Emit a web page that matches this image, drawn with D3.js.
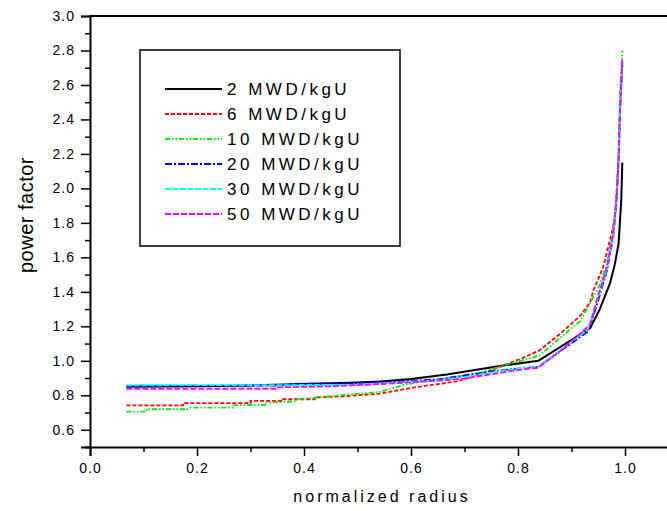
<!DOCTYPE html>
<html>
<head>
<meta charset="utf-8">
<title>power factor vs normalized radius</title>
<script src="https://cdn.jsdelivr.net/npm/d3@7"></script>
<style>
  body { margin: 0; background: #fff; }
  svg { display: block; font-family: "Liberation Sans", Arial, sans-serif; }
  .tick text { font-size: 14px; letter-spacing: 1px; }
</style>
</head>
<body>
<div id="chart"></div>
<script>
// burnup curves, [normalized radius, power factor]
var bu2 = [[0.068,0.85],[0.2,0.852],[0.3,0.857],[0.4,0.865],[0.486,0.873],[0.542,0.88],[0.6,0.895],[0.667,0.92],[0.766,0.97],[0.838,1.0],[0.935,1.19],[0.953,1.30],[0.972,1.45],[0.981,1.56],[0.988,1.68],[0.993,1.93],[0.995,2.15]];
var bu6 = [[0.068,0.742],[0.174,0.742],[0.174,0.754],[0.3,0.754],[0.3,0.767],[0.36,0.767],[0.36,0.777],[0.42,0.777],[0.42,0.787],[0.48,0.795],[0.542,0.81],[0.604,0.845],[0.685,0.88],[0.729,0.92],[0.766,0.965],[0.804,1.01],[0.84,1.06],[0.879,1.157],[0.916,1.26],[0.935,1.34],[0.941,1.41],[0.959,1.54],[0.975,1.74],[0.981,1.83],[0.987,2.1],[0.991,2.45],[0.995,2.74]];
var bu10 = [[0.068,0.705],[0.106,0.705],[0.106,0.719],[0.183,0.719],[0.187,0.728],[0.268,0.728],[0.268,0.742],[0.33,0.745],[0.33,0.757],[0.386,0.765],[0.386,0.777],[0.424,0.787],[0.467,0.80],[0.542,0.82],[0.592,0.864],[0.667,0.90],[0.729,0.93],[0.785,0.985],[0.804,1.0],[0.84,1.03],[0.879,1.135],[0.916,1.23],[0.95,1.42],[0.966,1.56],[0.978,1.76],[0.984,1.95],[0.988,2.2],[0.99,2.52],[0.995,2.8]];
var bu20 = [[0.068,0.855],[0.37,0.857],[0.37,0.866],[0.486,0.87],[0.573,0.88],[0.654,0.893],[0.71,0.92],[0.766,0.945],[0.838,0.965],[0.931,1.17],[0.947,1.32],[0.966,1.52],[0.978,1.72],[0.984,1.92],[0.988,2.16],[0.991,2.47],[0.995,2.72]];
var bu30 = [[0.068,0.858],[0.5,0.86],[0.542,0.868],[0.654,0.888],[0.71,0.91],[0.766,0.942],[0.838,0.965],[0.93,1.18],[0.947,1.34],[0.966,1.53],[0.978,1.73],[0.984,1.93],[0.988,2.17],[0.991,2.5],[0.995,2.74]];
var bu50 = [[0.068,0.838],[0.349,0.838],[0.349,0.846],[0.45,0.852],[0.542,0.865],[0.6,0.875],[0.697,0.895],[0.785,0.94],[0.838,0.96],[0.88,1.06],[0.916,1.157],[0.935,1.21],[0.947,1.35],[0.966,1.54],[0.978,1.74],[0.984,1.93],[0.988,2.17],[0.991,2.5],[0.995,2.76]];

var labels = ["2 MWD/kgU", "6 MWD/kgU", "10 MWD/kgU", "20 MWD/kgU", "30 MWD/kgU", "50 MWD/kgU"];
var xTicks = [0.0, 0.2, 0.4, 0.6, 0.8, 1.0];
var yTicks = [0.6, 0.8, 1.0, 1.2, 1.4, 1.6, 1.8, 2.0, 2.2, 2.4, 2.6, 2.8, 3.0];

var series = [bu2, bu6, bu10, bu20, bu30, bu50];
var colors = ["#000000", "#ff0000", "#00ee00", "#0000ff", "#00ffff", "#ff00ff"];
var dashes = [null, "4,2", "5,2,1.5,2,1.5,2", "7,2,2,2", "6,1.5", "6,2"];

var W = 667, H = 511;
var svg = d3.select("#chart").append("svg").attr("width", W).attr("height", H);

var x = d3.scaleLinear().domain([0, 1.1]).range([90, 90 + 1.1 * 535]);
var y = d3.scaleLinear().domain([0.5, 3.0]).range([447, 16]);

// minor ticks first
svg.append("g").attr("transform", "translate(0,447)")
  .call(d3.axisBottom(x).tickValues(d3.range(0.1, 1.1, 0.2)).tickSize(5).tickFormat(""))
  .call(function(g) { g.select(".domain").remove(); });
svg.append("g").attr("transform", "translate(90,0)")
  .call(d3.axisLeft(y).tickValues(d3.range(0.5, 3.0, 0.2).concat([0.5])).tickSize(5).tickFormat(""))
  .call(function(g) { g.select(".domain").remove(); });

var xa = svg.append("g").attr("transform", "translate(0,447)")
  .call(d3.axisBottom(x).tickValues(xTicks).tickSize(9).tickPadding(7).tickFormat(d3.format(".1f")));
var ya = svg.append("g").attr("transform", "translate(90,0)")
  .call(d3.axisLeft(y).tickValues(yTicks).tickSize(9).tickPadding(6).tickFormat(d3.format(".1f")));

svg.selectAll(".domain").attr("stroke-width", 2);
svg.selectAll(".tick line").attr("stroke-width", 1.5);
svg.selectAll(".tick text").attr("fill", "#000");

// top frame line
svg.append("line").attr("x1", 90).attr("x2", W).attr("y1", y(3.0)).attr("y2", y(3.0))
  .attr("stroke", "#000").attr("stroke-width", 2);

var line = d3.line().x(function(d) { return x(d[0]); }).y(function(d) { return y(d[1]); });

series.forEach(function(s, i) {
  svg.append("path").datum(s)
    .attr("d", line)
    .attr("fill", "none")
    .attr("stroke", colors[i])
    .attr("stroke-width", i === 0 ? 2 : 1.8)
    .attr("stroke-dasharray", dashes[i]);
});

// legend
var lg = svg.append("g");
lg.append("rect").attr("x", 140).attr("y", 50).attr("width", 260).attr("height", 196)
  .attr("fill", "#fff").attr("stroke", "#000").attr("stroke-width", 1.5);
labels.forEach(function(t, i) {
  var yy = 89 + i * 25;
  lg.append("line").attr("x1", 165).attr("x2", 222).attr("y1", yy).attr("y2", yy)
    .attr("stroke", colors[i]).attr("stroke-width", i === 0 ? 2 : 1.8)
    .attr("stroke-dasharray", dashes[i]);
  lg.append("text").attr("x", 227).attr("y", yy + 6)
    .attr("font-size", 17).attr("letter-spacing", "3.5px").text(t);
});

svg.append("text").attr("x", 382).attr("y", 502).attr("text-anchor", "middle")
  .attr("font-size", 16).attr("letter-spacing", "3px").text("normalized radius");
svg.append("text").attr("transform", "translate(33,215) rotate(-90)").attr("text-anchor", "middle")
  .attr("font-size", 20).attr("letter-spacing", "0.5px").text("power factor");
</script>
</body>
</html>
